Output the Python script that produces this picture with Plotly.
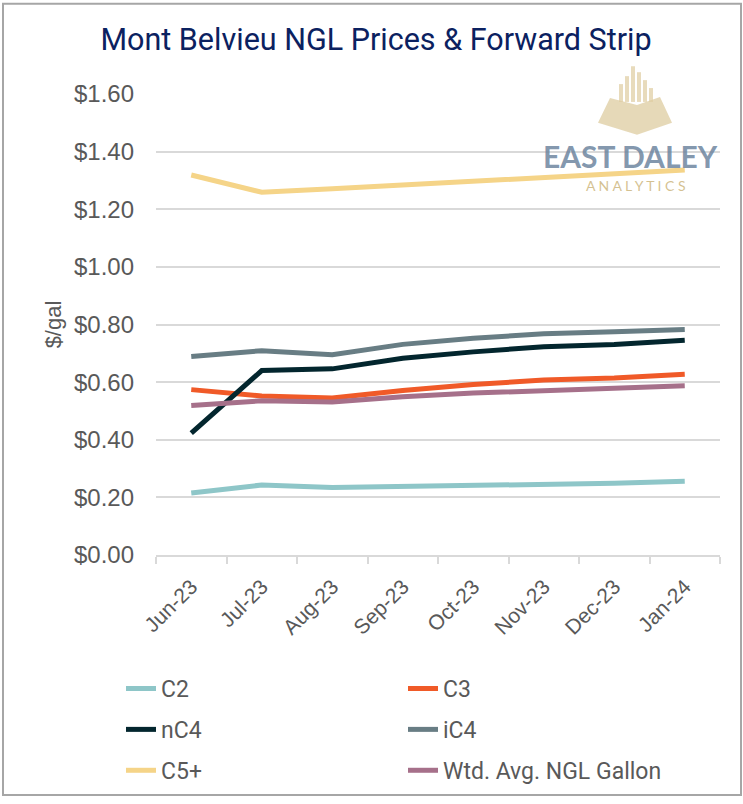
import plotly.graph_objects as go

W, H = 743, 804
# plot area in pixels
PL, PR, PT, PB = 156, 720, 94, 559

months = ["Jun-23", "Jul-23", "Aug-23", "Sep-23", "Oct-23", "Nov-23", "Dec-23", "Jan-24"]

c2 = [0.215, 0.243, 0.234, 0.237, 0.240, 0.245, 0.249, 0.256]
c3 = [0.574, 0.552, 0.545, 0.571, 0.592, 0.607, 0.614, 0.627]
nc4 = [0.423, 0.640, 0.646, 0.683, 0.705, 0.723, 0.731, 0.745]
ic4 = [0.689, 0.709, 0.695, 0.731, 0.752, 0.768, 0.775, 0.783]
c5 = [1.319, 1.259, 1.271, 1.284, 1.297, 1.309, 1.322, 1.336]
wtd = [0.519, 0.535, 0.531, 0.549, 0.562, 0.571, 0.578, 0.587]

series = [
    ("C2", c2, "#8ec6c8", "legend"),
    ("C3", c3, "#f05a28", "legend2"),
    ("nC4", nc4, "#03262e", "legend"),
    ("iC4", ic4, "#687d84", "legend2"),
    ("C5+", c5, "#f5d488", "legend"),
    ("Wtd. Avg. NGL Gallon", wtd, "#a6708a", "legend2"),
]


def px_x(x):
    return (x - PL) / (PR - PL)


def px_y(y):
    return (PB - y) / (PB - PT)


TXT = "#595959"
LEG_FONT = dict(family="Roboto", size=23, color=TXT)

fig = go.Figure()
for name, vals, color, lg in series:
    fig.add_trace(go.Scatter(
        x=months, y=vals, mode="lines", name=name,
        line=dict(color=color, width=5),
        legend=lg, legendgroup=name,
    ))

shapes = [
    # outer border
    dict(type="rect", xref="paper", yref="paper",
         x0=px_x(3), x1=px_x(741), y0=px_y(801), y1=px_y(3),
         line=dict(color="#a6a6a6", width=2), layer="below"),
    # logo pyramid
    dict(type="path", xref="paper", yref="paper",
         path="M {} {} L {} {} L {} {} L {} {} L {} {} L {} {} Z".format(
             px_x(610), px_y(98), px_x(637), px_y(105), px_x(660), px_y(97),
             px_x(672), px_y(123), px_x(637), px_y(135), px_x(598), px_y(123)),
         fillcolor="rgba(222,204,160,0.75)", line=dict(width=0), layer="below"),
]
# logo bars
for bx, top in [(619, 84), (625, 76), (631, 66), (637, 72), (643, 80), (649, 88)]:
    shapes.append(dict(type="rect", xref="paper", yref="paper",
                       x0=px_x(bx), x1=px_x(bx + 4), y0=px_y(102), y1=px_y(top),
                       fillcolor="rgba(222,204,160,0.7)", line=dict(width=0),
                       layer="below"))

annotations = [
    dict(text="EAST DALEY", xref="paper", yref="paper", x=px_x(630), y=px_y(157),
         showarrow=False, xanchor="center", yanchor="middle",
         font=dict(family="Lato", size=30, color="rgba(110,134,160,0.85)", weight=700)),
    dict(text="A N A L Y T I C S", xref="paper", yref="paper", x=px_x(636), y=px_y(186),
         showarrow=False, xanchor="center", yanchor="middle",
         font=dict(family="Lato", size=14, color="rgba(205,182,125,0.85)")),
]

fig.update_layout(
    width=W, height=H,
    margin=dict(l=PL, r=W - PR, t=PT, b=H - PB),
    paper_bgcolor="white", plot_bgcolor="white",
    title=dict(text="Mont Belvieu NGL Prices & Forward Strip",
               x=376 / W, xref="container", xanchor="center",
               y=1 - 39 / H, yref="container", yanchor="middle",
               font=dict(family="Roboto", size=30.5, color="#0b2160")),
    font=dict(family="Liberation Sans", color=TXT),
    xaxis=dict(
        type="category", range=[-0.5, 7.5],
        showgrid=False, zeroline=False,
        showline=True, linecolor="#d9d9d9", linewidth=2,
        ticks="outside", tickson="boundaries", ticklen=7, tickcolor="#d9d9d9", tickwidth=2,
        tickangle=-45, tickfont=dict(size=21, color=TXT), ticklabelstandoff=9,
    ),
    yaxis=dict(
        range=[0, 1.6], dtick=0.2, tick0=0,
        tickprefix="$", tickformat=".2f",
        showgrid=True, gridcolor="#d9d9d9", gridwidth=1.5,
        zeroline=False, showline=False,
        tickfont=dict(size=24, color=TXT), ticklabelstandoff=21,
        title=dict(text="$/gal", font=dict(size=22, color=TXT), standoff=6),
    ),
    legend=dict(x=px_x(121), y=px_y(672), xanchor="left", yanchor="top",
                orientation="v", tracegroupgap=8, bgcolor="rgba(0,0,0,0)",
                font=LEG_FONT),
    legend2=dict(x=px_x(403), y=px_y(672), xanchor="left", yanchor="top",
                 orientation="v", tracegroupgap=8, bgcolor="rgba(0,0,0,0)",
                 font=LEG_FONT),
    shapes=shapes,
    annotations=annotations,
)

# drop the default page margin so the figure sits at the window's top-left corner
fig.write_html("out.html", config={"displayModeBar": False},
               post_script="document.body.style.margin='0';document.body.style.overflow='hidden';")
